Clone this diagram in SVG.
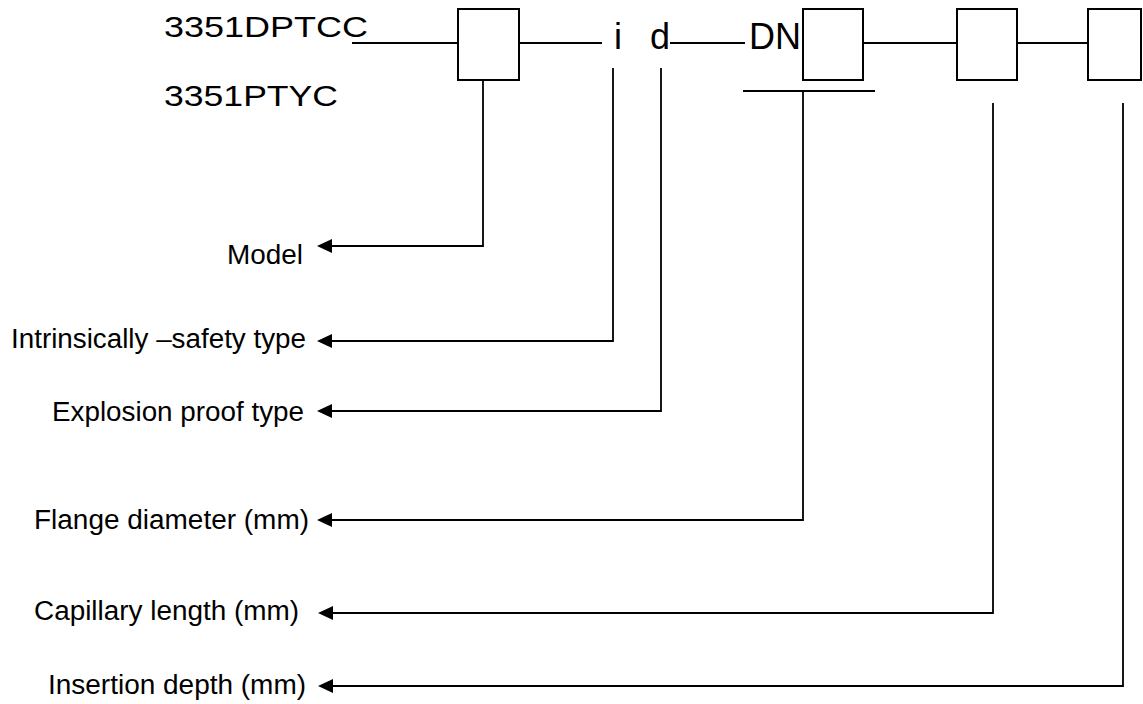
<svg xmlns="http://www.w3.org/2000/svg" width="1143" height="704" viewBox="0 0 1143 704">
<style>
.box{fill:#fff;stroke:#000;stroke-width:2}
.ln{fill:none;stroke:#000;stroke-width:1.8}
.arr{fill:none;stroke:#000;stroke-width:1.8;marker-end:url(#ah)}
.big{font-family:"Liberation Sans",Arial,sans-serif;font-size:30px;fill:#000}
.code{font-family:"Liberation Sans",Arial,sans-serif;font-size:36px;fill:#000}
.lbl{font-family:"Liberation Sans",Arial,sans-serif;font-size:27px;fill:#000}
</style>
<defs>
<marker id="ah" markerUnits="userSpaceOnUse" markerWidth="17" markerHeight="16" refX="1" refY="7" orient="auto">
<path d="M0,0 L15,7 L0,14 z" fill="#000"/>
</marker>
</defs>
<rect width="1143" height="704" fill="#fff"/>
<g id="connectors">
<line class="ln" x1="352" y1="43" x2="458" y2="43"/>
<line class="ln" x1="519" y1="43" x2="602" y2="43"/>
<line class="ln" x1="670" y1="43" x2="745" y2="43"/>
<line class="ln" x1="863" y1="43" x2="957" y2="43"/>
<line class="ln" x1="1017" y1="43" x2="1088" y2="43"/>
<line class="ln" x1="743" y1="91" x2="875" y2="91"/>
<path class="arr" d="M483,80 V246 H331"/>
<path class="arr" d="M613,68 V341 H331"/>
<path class="arr" d="M661,68 V411 H331"/>
<path class="arr" d="M803,91 V520 H331"/>
<path class="arr" d="M993,103 V613 H332"/>
<path class="arr" d="M1123,103 V686 H332"/>
</g>
<g id="title">
<text class="big" x="164" y="37" textLength="204" lengthAdjust="spacingAndGlyphs">3351DPTCC</text>
<text class="big" x="164" y="106" textLength="174" lengthAdjust="spacingAndGlyphs">3351PTYC</text>
</g>
<g id="node-model"><rect class="box" x="458" y="9" width="61" height="71"/></g>
<g id="node-i"><text class="code" x="614" y="49">i</text></g>
<g id="node-d"><text class="code" x="650" y="49">d</text></g>
<g id="node-dn"><text class="code" x="749" y="49">DN</text><rect class="box" x="803" y="9" width="60" height="71"/></g>
<g id="node-capillary"><rect class="box" x="957" y="9" width="60" height="71"/></g>
<g id="node-insertion"><rect class="box" x="1088" y="9" width="53" height="71"/></g>
<g id="labels">
<text class="lbl" x="227" y="264" font-size="25" textLength="76" lengthAdjust="spacingAndGlyphs">Model</text>
<text class="lbl" x="11" y="348" textLength="295" lengthAdjust="spacingAndGlyphs">Intrinsically –safety type</text>
<text class="lbl" x="52" y="421" textLength="252" lengthAdjust="spacingAndGlyphs">Explosion proof type</text>
<text class="lbl" x="34" y="529" textLength="275" lengthAdjust="spacingAndGlyphs">Flange diameter (mm)</text>
<text class="lbl" x="34" y="620" textLength="265" lengthAdjust="spacingAndGlyphs">Capillary length (mm)</text>
<text class="lbl" x="48" y="694" textLength="258" lengthAdjust="spacingAndGlyphs">Insertion depth (mm)</text>
</g>
</svg>
